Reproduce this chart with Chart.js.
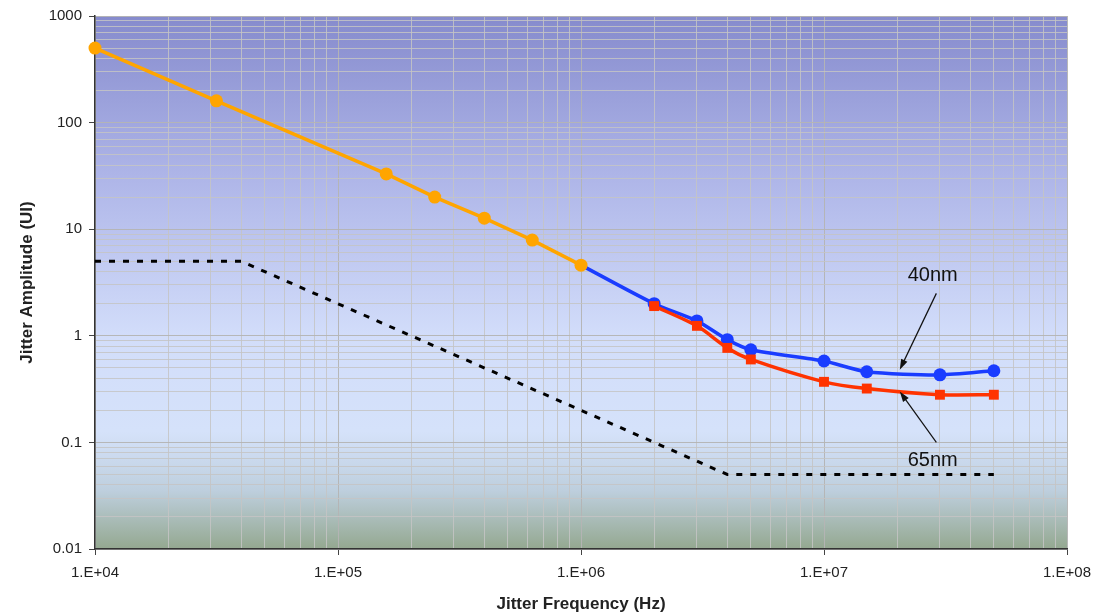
<!DOCTYPE html>
<html>
<head>
<meta charset="utf-8">
<script src="https://cdn.jsdelivr.net/npm/chart.js@4/dist/chart.umd.min.js"></script>
<style>
  html, body { margin: 0; padding: 0; background: #ffffff; }
  #wrap { width: 1110px; height: 615px; position: relative; }
</style>
</head>
<body>
<div id="wrap"><canvas id="jitterChart" width="1110" height="615"></canvas></div>
<script>
// data kurva toleransi jitter
const refFreq = [1e4, 3.16e4, 1.58e5, 2.5e5, 4e5, 6.3e5, 1e6];
const refAmp = [500, 160, 33, 20, 12.7, 7.9, 4.6];

const nm40Freq = [1e6, 2e6, 3e6, 4e6, 5e6, 1e7, 1.5e7, 3e7, 5e7];
const nm40Amp = [4.6, 2.0, 1.38, 0.92, 0.74, 0.58, 0.46, 0.43, 0.47];

const nm65Freq = [2e6, 3e6, 4e6, 5e6, 1e7, 1.5e7, 3e7, 5e7];
const nm65Amp = [1.9, 1.24, 0.77, 0.6, 0.37, 0.32, 0.28, 0.28];

// garis mask (putus-putus)
const maskFreq = [1e4, 4e4, 4e6, 5e7];
const maskAmp = [5, 5, 0.05, 0.05];

// label panah
const noteText = ["40nm", "65nm"];
const noteFreq = [2.8e7, 2.8e7];
const noteAmp = [3.7, 0.068];
const arrowFromFreq = [2.9e7, 2.9e7];
const arrowFromAmp = [2.5, 0.1];
const arrowToFreq = [2.05e7, 2.05e7];
const arrowToAmp = [0.48, 0.3];

const xTickLabels = ["1.E+04", "1.E+05", "1.E+06", "1.E+07", "1.E+08"];
const yTickLabels = ["0.01", "0.1", "1", "10", "100", "1000"];

function toPoints(xs, ys) {
    return xs.map(function (x, i) { return { x: x, y: ys[i] }; });
}

function isPow10(v) {
    const l = Math.log10(v);
    return Math.abs(l - Math.round(l)) < 1e-9;
}

// tick 1..9 x 10^n untuk grid log
function logTicks(scale) {
    const ticks = [];
    const lo = Math.round(Math.log10(scale.min));
    const hi = Math.round(Math.log10(scale.max));
    for (let e = lo; e < hi; e++) {
        for (let s = 1; s <= 9; s++) {
            ticks.push({ value: s * Math.pow(10, e), major: s === 1 });
        }
    }
    ticks.push({ value: Math.pow(10, hi), major: true });
    scale.ticks = ticks;
}

const bgPlugin = {
    id: "bgGradient",
    beforeDraw: function (chart) {
        const a = chart.chartArea;
        const ctx = chart.ctx;
        const g = ctx.createLinearGradient(0, a.top, 0, a.bottom);
        g.addColorStop(0, "rgb(134,139,205)");
        g.addColorStop(0.3, "rgb(174,181,232)");
        g.addColorStop(0.6, "rgb(210,221,250)");
        g.addColorStop(0.78, "rgb(213,226,250)");
        g.addColorStop(0.89, "rgb(190,207,222)");
        g.addColorStop(1, "rgb(148,168,144)");
        ctx.save();
        ctx.fillStyle = g;
        ctx.fillRect(a.left, a.top, a.right - a.left, a.bottom - a.top);
        ctx.restore();
    },
};

const notePlugin = {
    id: "notes",
    afterDatasetsDraw: function (chart) {
        const ctx = chart.ctx;
        const xs = chart.scales.x;
        const ys = chart.scales.y;
        ctx.save();
        ctx.fillStyle = "#111";
        ctx.strokeStyle = "#111";
        ctx.lineWidth = 1.2;
        ctx.font = "20px 'Liberation Sans', Arial, sans-serif";
        ctx.textAlign = "center";
        ctx.textBaseline = "middle";
        for (let i = 0; i < noteText.length; i++) {
            ctx.fillText(noteText[i], xs.getPixelForValue(noteFreq[i]), ys.getPixelForValue(noteAmp[i]));

            const x1 = xs.getPixelForValue(arrowFromFreq[i]);
            const y1 = ys.getPixelForValue(arrowFromAmp[i]);
            const x2 = xs.getPixelForValue(arrowToFreq[i]);
            const y2 = ys.getPixelForValue(arrowToAmp[i]);
            const ang = Math.atan2(y2 - y1, x2 - x1);
            ctx.beginPath();
            ctx.moveTo(x1, y1);
            ctx.lineTo(x2 - 6 * Math.cos(ang), y2 - 6 * Math.sin(ang));
            ctx.stroke();
            // kepala panah
            ctx.beginPath();
            ctx.moveTo(x2, y2);
            ctx.lineTo(x2 - 11 * Math.cos(ang - 0.32), y2 - 11 * Math.sin(ang - 0.32));
            ctx.lineTo(x2 - 11 * Math.cos(ang + 0.32), y2 - 11 * Math.sin(ang + 0.32));
            ctx.closePath();
            ctx.fill();
        }
        ctx.restore();
    },
};

const tickFont = { family: "'Liberation Sans', Arial, sans-serif", size: 15 };
const titleFont = { family: "'Liberation Sans', Arial, sans-serif", size: 17, weight: "bold" };

function gridColor(c) {
    return isPow10(c.tick.value) ? "rgba(180,180,180,0.95)" : "rgba(196,196,196,0.85)";
}
function tickMarkColor(c) {
    return isPow10(c.tick.value) ? "#444" : "rgba(0,0,0,0)";
}

const ctx = document.getElementById("jitterChart").getContext("2d");
new Chart(ctx, {
    type: "line",
    data: {
        datasets: [
            {
                label: "Reference",
                data: toPoints(refFreq, refAmp),
                borderColor: "#ffa500",
                backgroundColor: "#ffa500",
                borderWidth: 3.5,
                pointRadius: 6.5,
                pointBorderWidth: 0,
                pointStyle: "circle",
                clip: false,
            },
            {
                label: "65nm",
                data: toPoints(nm65Freq, nm65Amp),
                borderColor: "#ff3300",
                backgroundColor: "#ff3300",
                borderWidth: 3.5,
                pointRadius: 7,
                pointBorderWidth: 0,
                pointStyle: "rect",
                tension: 0.25,
                clip: false,
            },
            {
                label: "40nm",
                data: toPoints(nm40Freq, nm40Amp),
                borderColor: "#1a3cff",
                backgroundColor: "#1a3cff",
                borderWidth: 3.5,
                pointRadius: nm40Freq.map(function (f, i) { return i === 0 ? 0 : 6.5; }),
                pointBorderWidth: 0,
                pointStyle: "circle",
                tension: 0.25,
                clip: false,
            },
            {
                label: "Mask",
                data: toPoints(maskFreq, maskAmp),
                borderColor: "#000",
                borderWidth: 3,
                borderDash: [6, 8],
                pointRadius: 0,
                fill: false,
            },
        ],
    },
    options: {
        responsive: false,
        animation: false,
        events: [],
        layout: { padding: { top: 15, right: 43, left: 17, bottom: 0 } },
        plugins: { legend: { display: false }, tooltip: { enabled: false } },
        scales: {
            x: {
                type: "logarithmic",
                min: 1e4,
                max: 1e8,
                afterBuildTicks: logTicks,
                afterFit: function (s) { s.height = 66; },
                border: { color: "#333", width: 1.5 },
                grid: { color: gridColor, tickColor: tickMarkColor, tickLength: 6, lineWidth: 1 },
                ticks: {
                    autoSkip: false,
                    maxRotation: 0,
                    padding: 9,
                    color: "#222",
                    font: tickFont,
                    callback: function (v) {
                        if (!isPow10(v)) return "";
                        return xTickLabels[Math.round(Math.log10(v)) - 4];
                    },
                },
                title: { display: true, text: "Jitter Frequency (Hz)", color: "#222", font: titleFont, padding: 0 },
            },
            y: {
                type: "logarithmic",
                min: 0.01,
                max: 1000,
                afterBuildTicks: logTicks,
                afterFit: function (s) { s.width = 78; },
                border: { color: "#333", width: 1.5 },
                grid: { color: gridColor, tickColor: tickMarkColor, tickLength: 6, lineWidth: 1 },
                ticks: {
                    autoSkip: false,
                    padding: 7,
                    color: "#222",
                    font: tickFont,
                    callback: function (v) {
                        if (!isPow10(v)) return "";
                        return yTickLabels[Math.round(Math.log10(v)) + 2];
                    },
                },
                title: { display: true, text: "Jitter Amplitude (UI)", color: "#222", font: titleFont, padding: 0 },
            },
        },
    },
    plugins: [bgPlugin, notePlugin],
});
</script>
</body>
</html>
